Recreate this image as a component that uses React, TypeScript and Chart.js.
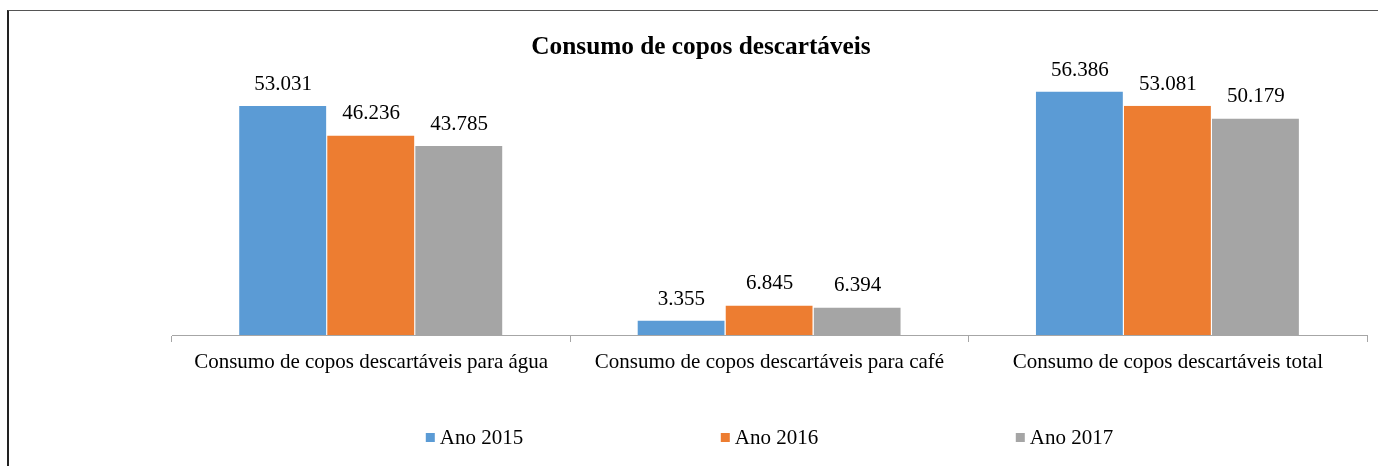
import React, { useEffect, useRef } from "react";
import { Chart, registerables } from "chart.js";

Chart.register(...registerables);

const chartTitle = "Consumo de copos descartáveis";
const categories = [
  "Consumo de copos descartáveis para água",
  "Consumo de copos descartáveis para café",
  "Consumo de copos descartáveis total",
];
const seriesNames = ["Ano 2015", "Ano 2016", "Ano 2017"];
const values2015 = [53031, 3355, 56386];
const values2016 = [46236, 6845, 53081];
const values2017 = [43785, 6394, 50179];
const seriesColors = ["#5B9BD5", "#ED7D31", "#A5A5A5"];

const FONT = "'Liberation Serif', 'Times New Roman', serif";

const fmt = (n: number) => String(n).replace(/\B(?=(\d{3})+(?!\d))/g, ".");

const overlayPlugin = {
  id: "overlay",
  afterDatasetsDraw(chart: any) {
    const ctx = chart.ctx;
    ctx.save();
    // value labels
    ctx.font = `21px ${FONT}`;
    ctx.fillStyle = "#000";
    ctx.textAlign = "center";
    ctx.textBaseline = "alphabetic";
    chart.data.datasets.forEach((ds: any, di: number) => {
      const meta = chart.getDatasetMeta(di);
      meta.data.forEach((bar: any, i: number) => {
        ctx.fillText(fmt(ds.data[i]), bar.x, bar.y - 16);
      });
    });
    // title
    ctx.font = `bold 25.3px ${FONT}`;
    ctx.fillText(chartTitle, 701, 54);
    // legend
    ctx.font = `21px ${FONT}`;
    ctx.textAlign = "left";
    const step = 295;
    const textW = ctx.measureText(chart.data.datasets[0].label).width;
    const total = step * (chart.data.datasets.length - 1) + 14 + textW;
    const cx = (chart.chartArea.left + chart.chartArea.right) / 2;
    const x0 = cx - total / 2;
    chart.data.datasets.forEach((ds: any, di: number) => {
      const x = x0 + di * step;
      ctx.fillStyle = ds.backgroundColor;
      ctx.fillRect(x, 433, 9, 9);
      ctx.fillStyle = "#000";
      ctx.fillText(ds.label, x + 14, 444);
    });
    ctx.restore();
  },
};

export default function App() {
  const ref = useRef<HTMLCanvasElement>(null);
  useEffect(() => {
    const canvas = ref.current!;
    const seriesData = [values2015, values2016, values2017];
    const chart = new Chart(canvas, {
      type: "bar",
      data: {
        labels: categories,
        datasets: seriesNames.map((name, i) => ({
          label: name,
          data: seriesData[i],
          backgroundColor: seriesColors[i],
          borderColor: "#ffffff",
          borderWidth: { top: 0, left: 0, right: 1, bottom: 0 },
          borderSkipped: false,
          barPercentage: 1,
          categoryPercentage: 0.663,
        })),
      },
      options: {
        responsive: false,
        animation: false,
        layout: { padding: { left: 172, right: 11, top: 76, bottom: 0 } },
        plugins: {
          legend: { display: false },
          title: { display: false },
          tooltip: { enabled: false },
        },
        scales: {
          x: {
            offset: true,
            border: { display: true, color: "#A6A6A6", width: 1 },
            grid: {
              offset: true,
              drawOnChartArea: false,
              drawTicks: true,
              tickLength: 7,
              color: "#A6A6A6",
            },
            ticks: {
              color: "#000",
              padding: 8,
              maxRotation: 0,
              autoSkip: false,
              font: { family: FONT, size: 21 },
            },
            afterFit: (scale: any) => {
              scale.height = 131;
            },
          },
          y: {
            display: false,
            min: 0,
            max: 60000,
          },
        },
      },
      plugins: [overlayPlugin],
    });
    return () => chart.destroy();
  }, []);

  return (
    <div style={{ position: "fixed", left: 0, top: 0, width: 1378, height: 466, background: "#fff" }}>
      <canvas ref={ref} width={1378} height={466} style={{ position: "absolute", left: 0, top: 0 }} />
      <div
        style={{
          position: "absolute",
          left: 7,
          top: 10,
          width: 1400,
          height: 500,
          borderTop: "1px solid #555",
          borderLeft: "2px solid #222",
          pointerEvents: "none",
        }}
      />
    </div>
  );
}
